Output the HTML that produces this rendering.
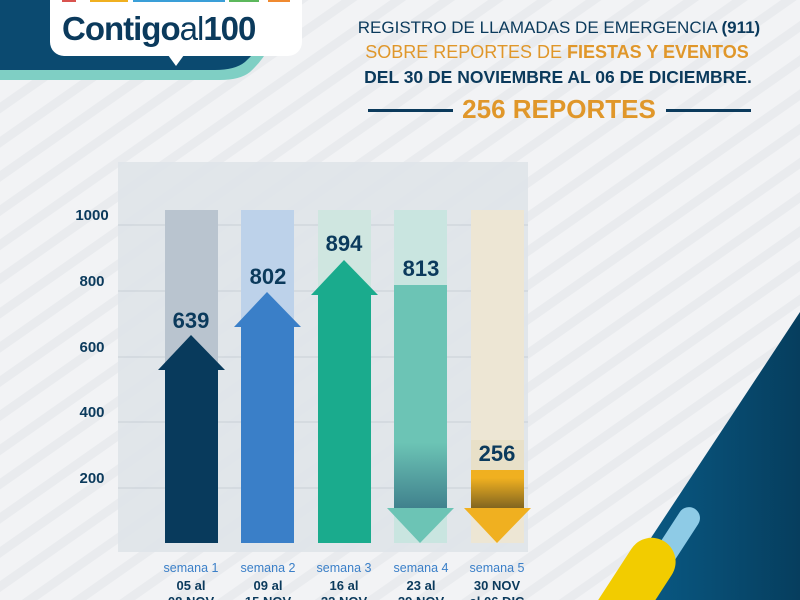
<!DOCTYPE html>
<html><head><meta charset="utf-8"><style>
html,body{margin:0;padding:0;width:800px;height:600px;overflow:hidden;background:#eef0f2}
svg{display:block}
text{font-family:"Liberation Sans",sans-serif}
</style></head><body>
<svg width="800" height="600" viewBox="0 0 800 600" xmlns="http://www.w3.org/2000/svg">
<defs>
<pattern id="st" width="28" height="28" patternUnits="userSpaceOnUse" patternTransform="rotate(-35)">
<rect width="28" height="28" fill="#f2f3f5"/><rect width="28" height="9" fill="#e9ebee"/>
</pattern>
<linearGradient id="g4" x1="0" y1="0" x2="0" y2="1"><stop offset="0.7" stop-color="#6cc4b5"/><stop offset="1" stop-color="#3f7f8c"/></linearGradient>
<linearGradient id="g5" x1="0" y1="0" x2="0" y2="1"><stop offset="0.2" stop-color="#f0b020"/><stop offset="1" stop-color="#7a6020"/></linearGradient>
<linearGradient id="gb" x1="0" y1="0" x2="1" y2="0"><stop offset="0" stop-color="#0a5f8c"/><stop offset="1" stop-color="#063e5e"/></linearGradient>
</defs>
<rect width="800" height="600" fill="url(#st)"/>
<path d="M0 0 H270 Q285 40 250 72 Q240 80 220 80 H0 Z" fill="#7fcfc4"/>
<path d="M0 0 H265 Q275 35 245 62 Q235 70 215 70 H0 Z" fill="#0b4a70"/>
<rect x="50" y="-20" width="252" height="76" rx="14" fill="#ffffff"/>
<path d="M168 55 L176 66 L184 55 Z" fill="#ffffff"/>
<rect x="62" y="0" width="14" height="2" fill="#d9534f"/><rect x="90" y="0" width="38" height="2" fill="#f0b020"/><rect x="133" y="0" width="92" height="2" fill="#3a9fd8"/><rect x="229" y="0" width="30" height="2" fill="#5cb85c"/><rect x="268" y="0" width="22" height="2" fill="#f08a30"/>
<text x="62" y="40" font-size="33" font-weight="bold" fill="#0b3a5c" letter-spacing="-1">Contigo<tspan font-weight="normal">al</tspan>100</text>
<g text-anchor="middle">
<text x="559" y="33" font-size="17" fill="#0b3a5c">REGISTRO DE LLAMADAS DE EMERGENCIA <tspan font-weight="bold">(911)</tspan></text>
<text x="557" y="58" font-size="18" fill="#e0972a">SOBRE REPORTES DE <tspan font-weight="bold">FIESTAS Y EVENTOS</tspan></text>
<text x="558" y="83" font-size="17.5" font-weight="bold" fill="#0b3a5c">DEL 30 DE NOVIEMBRE AL 06 DE DICIEMBRE.</text>
<text x="559" y="118" font-size="26" font-weight="bold" fill="#e0972a">256 REPORTES</text>
</g>
<rect x="368" y="109" width="85" height="3" fill="#0b3a5c"/><rect x="666" y="109" width="85" height="3" fill="#0b3a5c"/>
<path d="M800 312 L610 600 H800 Z" fill="url(#gb)"/>
<rect x="654" y="500" width="22" height="115" rx="11" fill="#8ecbe6" transform="rotate(33 665 555)"/>
<rect x="608" y="532" width="48" height="120" rx="24" fill="#f2cc00" transform="rotate(33 632 592)"/>
<rect x="118" y="162" width="410" height="390" fill="#dfe4e9" opacity="0.9"/>
<g stroke="#c9d0d6" stroke-width="1">
<line x1="118" y1="225" x2="528" y2="225"/><line x1="118" y1="291" x2="528" y2="291"/><line x1="118" y1="357" x2="528" y2="357"/><line x1="118" y1="422" x2="528" y2="422"/><line x1="118" y1="488" x2="528" y2="488"/>
</g>
<g font-size="15" font-weight="bold" fill="#0b3a5c" text-anchor="middle">
<text x="92" y="220">1000</text><text x="92" y="286">800</text><text x="92" y="352">600</text><text x="92" y="417">400</text><text x="92" y="483">200</text>
</g>
<rect x="165" y="210" width="53" height="333" fill="#b9c4cf"/>
<rect x="241" y="210" width="53" height="333" fill="#bdd2ea"/>
<rect x="318" y="210" width="53" height="333" fill="#cfe6e0"/>
<rect x="394" y="210" width="53" height="333" fill="#c9e5e0"/>
<rect x="471" y="210" width="53" height="333" fill="#ede6d4"/>
<rect x="165" y="368" width="53" height="175" fill="#083a5c"/><path d="M158 370 L191 335 L225 370 Z" fill="#083a5c"/>
<rect x="241" y="325" width="53" height="218" fill="#3a7fc8"/><path d="M234 327 L267 292 L301 327 Z" fill="#3a7fc8"/>
<rect x="318" y="293" width="53" height="250" fill="#1aab8d"/><path d="M311 295 L344 260 L378 295 Z" fill="#1aab8d"/>
<rect x="394" y="285" width="53" height="225" fill="url(#g4)"/><path d="M387 508 L454 508 L420 543 Z" fill="#6cc4b5"/>
<rect x="471" y="440" width="53" height="30" fill="#e8e0c8"/>
<rect x="471" y="470" width="53" height="40" fill="url(#g5)"/><path d="M464 508 L531 508 L497 543 Z" fill="#f0b020"/>
<g font-size="22" font-weight="bold" fill="#0b3a5c" text-anchor="middle">
<text x="191" y="328">639</text><text x="268" y="284">802</text><text x="344" y="251">894</text><text x="421" y="276">813</text><text x="497" y="461">256</text>
</g>
<g font-size="12.5" fill="#3a7fc8" text-anchor="middle">
<text x="191" y="572">semana 1</text><text x="268" y="572">semana 2</text><text x="344" y="572">semana 3</text><text x="421" y="572">semana 4</text><text x="497" y="572">semana 5</text>
</g>
<g font-size="13" font-weight="bold" fill="#0b3a5c" text-anchor="middle">
<text x="191" y="590">05 al</text><text x="268" y="590">09 al</text><text x="344" y="590">16 al</text><text x="421" y="590">23 al</text><text x="497" y="590">30 NOV</text>
<text x="191" y="606">08 NOV</text><text x="268" y="606">15 NOV</text><text x="344" y="606">22 NOV</text><text x="421" y="606">29 NOV</text><text x="497" y="606">al 06 DIC</text>
</g>
</svg>
</body></html>
